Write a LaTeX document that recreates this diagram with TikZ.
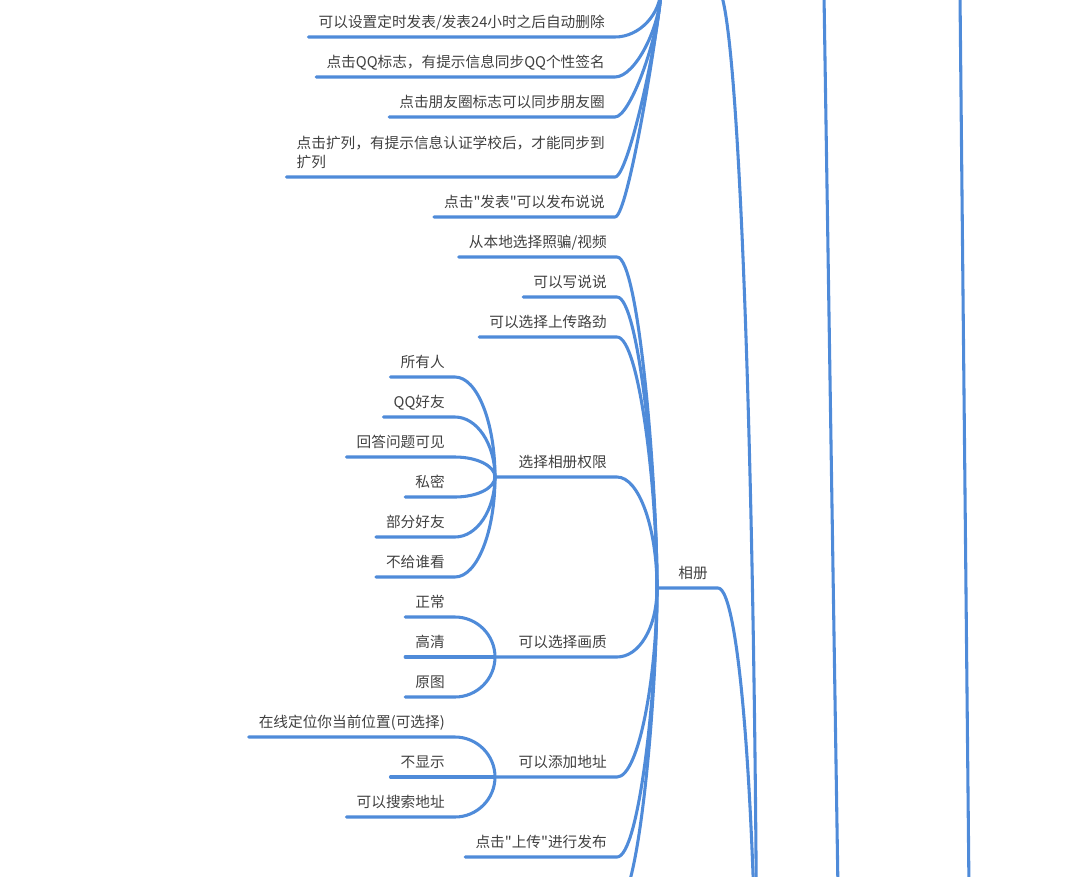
\documentclass[tikz,border=0pt]{standalone}
\usepackage{fontspec}
\setmainfont{Noto Sans CJK SC}[Ligatures=TeXOff]
\definecolor{mline}{RGB}{79,139,217}
\definecolor{mtext}{RGB}{64,64,64}
\begin{document}
\begin{tikzpicture}[x=0.75pt,y=-0.75pt, line join=round, line cap=round,
	font=\fontsize{11}{14}\selectfont,
	leaf/.style={anchor=south east, text=mtext, inner xsep=7.5pt, inner ysep=0pt, text depth=7.1pt},
	link/.style={draw=mline, line width=2.3pt}]
	\useasboundingbox (0,0) rectangle (1075,876);
	\clip (0,0) rectangle (1075,876);
	% hubs
	\coordinate (hTop) at (661,-12); \coordinate (tEnd) at (717,-12);
	\coordinate (hXc) at (657,588);  \coordinate (hMain) at (757,1103);
	\coordinate (hQx) at (495,477);  \coordinate (hHz) at (495,657); \coordinate (hDz) at (495,777);
	\coordinate (xcLast) at (617,904);
	\coordinate (lA1) at (824,-5); \coordinate (lA2) at (838,890);
	\coordinate (lB1) at (960,-5); \coordinate (lB2) at (969,890);
	\draw[link] (lA1)--(lA2);
	\draw[link] (lB1)--(lB2);
	% top group
	\foreach \y/\txt [count=\i] in {37/{可以设置定时发表/发表24小时之后自动删除}, 77/{点击QQ标志，有提示信息同步QQ个性签名}, 117/{点击朋友圈标志可以同步朋友圈}, 177/{点击扩列，有提示信息认证学校后，才能同步到\\扩列}, 217/{点击"发表"可以发布说说}}{
		\node[leaf, align=left] (top-\i) at (615,\y) {\txt};
		\pgfmathsetmacro\kb{max(0.1,0.65-0.0024*abs(\y+12))}
		\pgfmathsetmacro\ka{max(0.3,\kb)*46}
		\pgfmathsetmacro\kb{\kb*(\y+12)}
		\draw[link] (top-\i.south west)--(top-\i.south east) .. controls +(\ka,0) and +(0,\kb) .. (hTop);
	}
	\draw[link] (hTop)--(tEnd) .. controls +(22,0) and +(0,-613) .. (hMain);
	% 相册
	\node[leaf] (xc) at (718,588) {相册};
	\draw[link] (hXc)--(xc.south east) .. controls +(22,0) and +(0,-283) .. (hMain);
	\foreach \y/\txt [count=\i] in {257/{从本地选择照骗/视频}, 297/可以写说说, 337/可以选择上传路劲, 857/{点击"上传"进行发布}}{
		\node[leaf] (xc-\i) at (617,\y) {\txt};
		\pgfmathsetmacro\kb{(0.65-0.001*abs(\y-588))*(\y-588)}
		\draw[link] (xc-\i.south west)--(xc-\i.south east) .. controls +(22,0) and +(0,\kb) .. (hXc);
	}
	\draw[link] (xcLast) .. controls +(22,0) and +(0,107) .. (hXc);
	\node[leaf] (qx) at (617,477) {选择相册权限};
	\node[leaf] (hz) at (617,657) {可以选择画质};
	\node[leaf] (dz) at (617,777) {可以添加地址};
	\foreach \n/\h/\y in {qx/hQx/477, hz/hHz/657, dz/hDz/777}{
		\pgfmathsetmacro\kb{(0.65-0.001*abs(\y-588))*(\y-588)}
		\draw[link] (\h)--(\n.south east) .. controls +(22,0) and +(0,\kb) .. (hXc);
	}
	% 权限, 画质, 地址
	\foreach \y/\txt [count=\i] in {377/所有人, 417/QQ好友, 457/回答问题可见, 497/私密, 537/部分好友, 577/不给谁看}{
		\node[leaf] (qx-\i) at (455,\y) {\txt};
		\pgfmathsetmacro\kb{0.55*(\y-477)}
		\draw[link] (qx-\i.south west)--(qx-\i.south east) .. controls +(22,0) and +(0,\kb) .. (hQx);
	}
	\foreach \y/\txt [count=\i] in {617/正常, 657/高清, 697/原图}{
		\node[leaf] (hz-\i) at (455,\y) {\txt};
		\pgfmathsetmacro\kb{0.55*(\y-657)}
		\draw[link] (hz-\i.south west)--(hz-\i.south east) .. controls +(22,0) and +(0,\kb) .. (hHz);
	}
	\foreach \y/\txt [count=\i] in {737/在线定位你当前位置(可选择), 777/不显示, 817/可以搜索地址}{
		\node[leaf] (dz-\i) at (455,\y) {\txt};
		\pgfmathsetmacro\kb{0.55*(\y-777)}
		\draw[link] (dz-\i.south west)--(dz-\i.south east) .. controls +(22,0) and +(0,\kb) .. (hDz);
	}
\end{tikzpicture}
\end{document}
